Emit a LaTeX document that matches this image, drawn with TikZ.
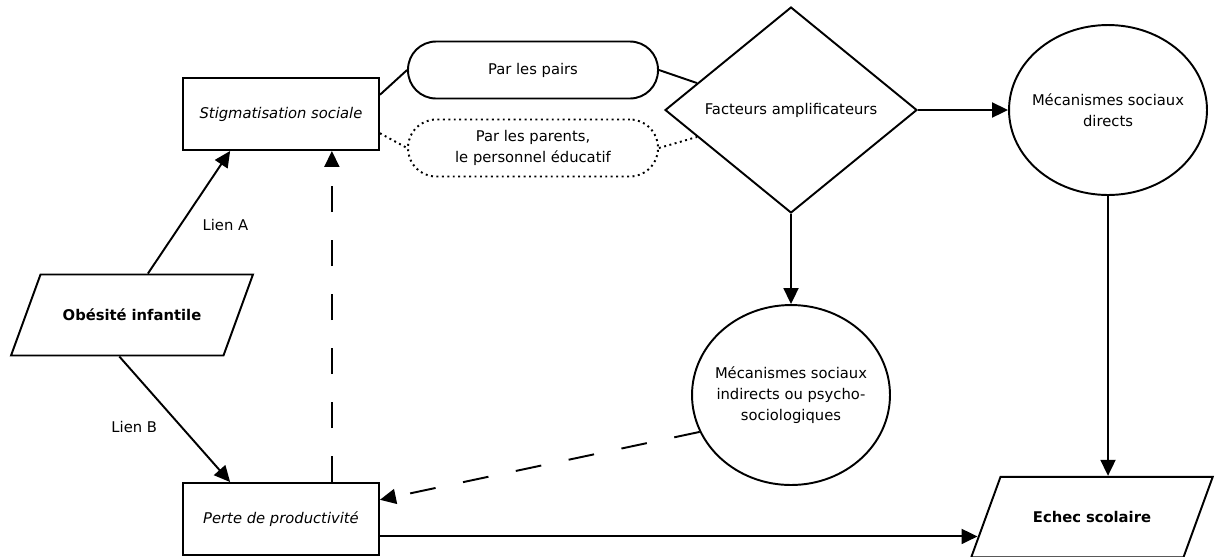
\documentclass[tikz,border=0pt]{standalone}
\usepackage{fontspec}
\setmainfont{DejaVu Sans}
\usepackage{tikz}
\usetikzlibrary{arrows.meta,shapes.geometric}

\begin{document}
\begin{tikzpicture}[x=0.02cm,y=-0.02cm,line width=1.1pt,font=\fontsize{8.4}{12}\selectfont]
\tikzset{edge/.style = {->,>={Triangle[length=3.2mm,width=3mm]}}}
\tikzset{boite/.style = {draw,rectangle,minimum width=3.92cm,minimum height=1.44cm,font=\fontsize{8.4}{12}\selectfont\itshape}}
\tikzset{pilule/.style = {draw,rectangle,rounded corners=0.56cm,minimum width=5cm,minimum height=1.14cm,align=center}}
\tikzset{para/.style = {draw,trapezium,trapezium left angle=70,trapezium right angle=110,text width=3.6cm,align=center,inner xsep=0.03cm,inner ysep=0.69cm,font=\fontsize{8.4}{12}\selectfont\bfseries}}
\tikzset{bulle/.style = {draw,ellipse,inner xsep=-0.5cm,inner ysep=0pt,minimum width=3.96cm,minimum height=3.4cm,align=center}}
\tikzset{tirets/.style = {dash pattern=on 0.52cm off 0.56cm}}
\useasboundingbox (0,0) rectangle (1216,556);

\node[para] (obes) at (132,315) {Obésité infantile};
\node[boite] (stig) at (281,114) {Stigmatisation sociale};
\node[boite] (perte) at (281,519) {Perte de productivité};
\node[pilule] (pairs) at (533,70) {Par les pairs};
\node[pilule,dotted] (parents) at (533,148) {Par les parents,\\le personnel éducatif};
\node[draw,diamond,minimum width=5.04cm,minimum height=4.12cm,inner sep=0pt] (fact) at (791,110) {Facteurs amplificateurs};
\node[bulle] (direct) at (1108,110) {Mécanismes sociaux\\directs};
\node[bulle,minimum height=3.6cm] (indirect) at (791,395) {Mécanismes sociaux\\indirects ou psycho-\\sociologiques};
\node[para] (echec) at (1092,517) {Echec scolaire};

\draw[edge] (obes.69) -- node[pos=0.4,right=0.3cm] {Lien A} (stig.216);
\draw[edge] (obes.253) -- node[pos=0.56,left=0.35cm] {Lien B} (perte.144);
\draw[edge,tirets] (perte.36) -- (stig.-36);
\draw (stig.11) -- (pairs.west);
\draw (pairs.east) -- (fact.164);
\draw[dotted] (stig.-11) -- (parents.west);
\draw[dotted] (parents.east) -- (fact.196);
\draw[edge] (fact.east) -- (direct.west);
\draw[edge] (fact.south) -- (indirect.north);
\draw[edge] (direct.south) -- (direct.south |- echec.north);
\draw[edge,tirets] (indirect.202) -- (perte.11);
\draw[edge] (perte.-10) -- (perte.-10 -| echec.190);

\end{tikzpicture}
\end{document}
